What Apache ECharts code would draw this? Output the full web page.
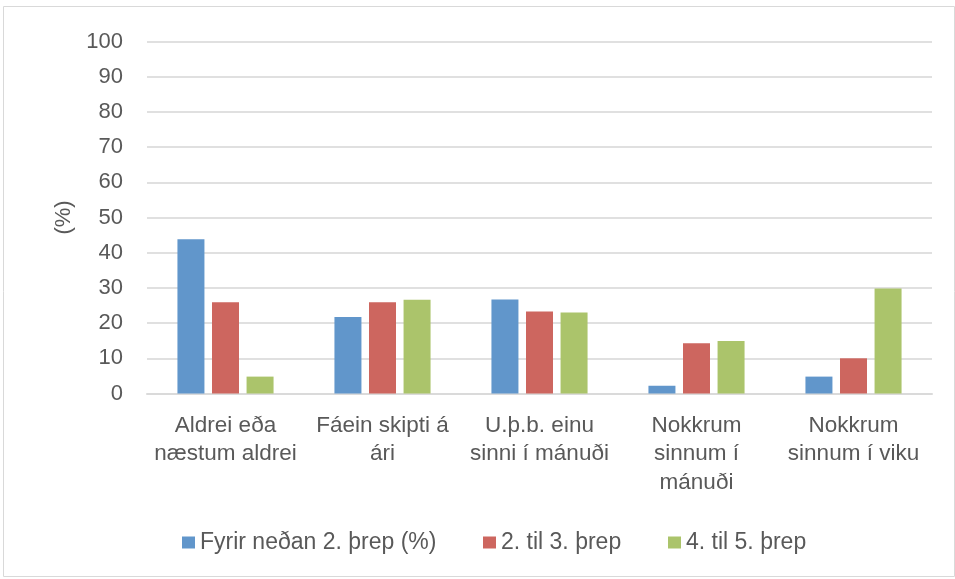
<!DOCTYPE html>
<html>
<head>
<meta charset="utf-8">
<script src="https://cdn.jsdelivr.net/npm/echarts@6/dist/echarts.min.js"></script>
<style>html,body{margin:0;padding:0;background:#fff}#c{width:955px;height:579px}</style>
</head>
<body>
<div id="c"></div>
<script>
var categories = ["Aldrei eða\nnæstum aldrei", "Fáein skipti á\nári", "U.þ.b. einu\nsinni í mánuði", "Nokkrum\nsinnum í\nmánuði", "Nokkrum\nsinnum í viku"];
var seriesNames = ["Fyrir neðan 2. þrep (%)", "2. til 3. þrep", "4. til 5. þrep"];
var level1 = [43.8, 21.7, 26.7, 2.2, 4.8];
var level2_3 = [25.9, 25.9, 23.3, 14.3, 10.0];
var level4_5 = [4.8, 26.6, 23.0, 14.9, 29.8];
var yTicks = {min: 0, max: 100, interval: 10};
var colors = ["#6196CB", "#CD665F", "#ABC46B"];

var chart = echarts.init(document.getElementById('c'), null, {renderer: 'canvas'});
var font = 'Liberation Sans, Arial, sans-serif';
var txt = '#595959';
function bar(name, data, i) {
  return {
    name: name, type: 'bar', data: data,
    barWidth: 27, barGap: '28%',
    itemStyle: {color: colors[i]}
  };
}
var legendLefts = [177, 478, 663];
var legends = seriesNames.map(function (n, i) {
  return {
    left: legendLefts[i], top: 526, itemWidth: 13, itemHeight: 12, itemGap: 0,
    icon: 'rect',
    textStyle: {fontSize: 23, color: txt, fontFamily: font},
    data: [n]
  };
});
chart.setOption({
  animation: false,
  textStyle: {fontFamily: font},
  graphic: [{type: 'rect', shape: {x: 3.5, y: 6.5, width: 951, height: 570}, style: {fill: 'none', stroke: '#d9d9d9', lineWidth: 1}, silent: true}],
  grid: {left: 147, right: 23, top: 41.5, bottom: 185.5},
  legend: legends,
  xAxis: {
    type: 'category', data: categories,
    axisLine: {lineStyle: {color: '#dadada', width: 2}},
    axisTick: {show: false},
    axisLabel: {interval: 0, fontSize: 22.5, color: txt, lineHeight: 28.5, margin: 18, fontFamily: font}
  },
  yAxis: {
    type: 'value', min: yTicks.min, max: yTicks.max, interval: yTicks.interval,
    name: '(%)', nameLocation: 'middle', nameGap: 71, nameRotate: 90,
    nameTextStyle: {fontSize: 22, color: txt, fontFamily: font},
    axisLine: {show: false}, axisTick: {show: false},
    axisLabel: {fontSize: 22, color: txt, margin: 24, fontFamily: font},
    splitLine: {lineStyle: {color: '#e0e0e0', width: 2}}
  },
  series: [bar(seriesNames[0], level1, 0), bar(seriesNames[1], level2_3, 1), bar(seriesNames[2], level4_5, 2)]
});
</script>
</body>
</html>
